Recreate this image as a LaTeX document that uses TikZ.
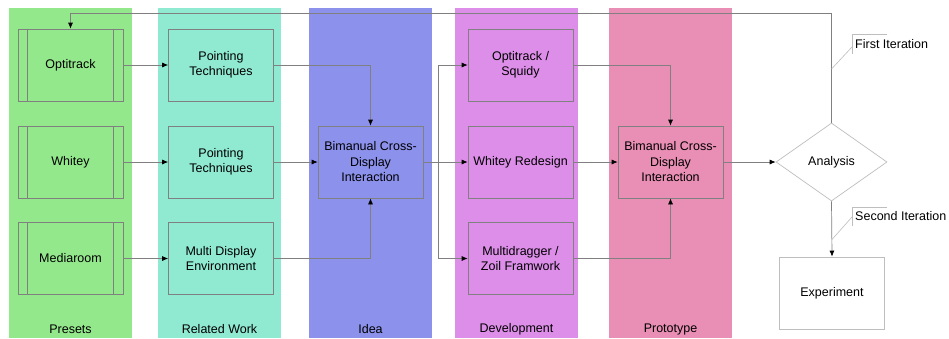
\documentclass[tikz,border=0pt]{standalone}
\usepackage{fontspec}
\setmainfont{Liberation Sans}
\usetikzlibrary{shapes.geometric,arrows.meta}
\definecolor{cgreen}{RGB}{148,232,140}
\definecolor{cteal}{RGB}{144,234,210}
\definecolor{cblue}{RGB}{140,145,236}
\definecolor{cmag}{RGB}{221,142,233}
\definecolor{cpink}{RGB}{233,142,180}
\definecolor{edgegray}{RGB}{128,128,128}
\definecolor{notegray}{RGB}{190,190,190}
\begin{document}
\begin{tikzpicture}[x=1pt,y=-1pt,
  box/.style={draw=edgegray,line width=0.7pt,minimum width=105pt,minimum height=72pt,inner sep=2pt,align=center,font=\fontsize{12.5}{15.5}\selectfont},
  lbl/.style={font=\fontsize{12.5}{15.5}\selectfont},
  conn/.style={draw=edgegray,line width=0.7pt},
  arr/.style={conn,-{Latex[length=6pt,width=5pt,black]}},
  note/.style={draw=notegray,line width=0.6pt}]
\fill[white] (0,0) rectangle (949,338);
\useasboundingbox (0,0) rectangle (949,338);
% lanes
\fill[cgreen] (9,8) rectangle (132,338);
\fill[cteal] (158,8) rectangle (281,338);
\fill[cblue] (309,8) rectangle (432,338);
\fill[cmag] (455,8) rectangle (578,338);
\fill[cpink] (609,8) rectangle (732,338);
\node[lbl] (l1) at (70.5,329) {Presets};
\node[lbl] (l2) at (219.5,329) {Related Work};
\node[lbl] (l3) at (370.5,329) {Idea};
\node[lbl] (l4) at (516.5,329) {Development};
\node[lbl] (l5) at (670.5,329) {Prototype};
% presets
\foreach \n/\t/\y in {p1/Optitrack/65,p2/Whitey/162,p3/Mediaroom/258.5}{
  \node[box] (\n) at (70.5,\y) {\t};
  \draw[edgegray,line width=0.7pt] ([xshift=10pt]\n.north west) -- ([xshift=10pt]\n.south west)
        ([xshift=-10pt]\n.north east) -- ([xshift=-10pt]\n.south east);
}
\node[box] (r1) at (221,65) {Pointing\\Techniques};
\node[box] (r2) at (221,162) {Pointing\\Techniques};
\node[box] (r3) at (221,258.5) {Multi Display\\Environment};
\node[box] (idea) at (370.5,162) {Bimanual Cross-\\Display\\Interaction};
\node[box] (d1) at (520.5,65) {Optitrack /\\Squidy};
\node[box] (d2) at (520.5,162) {Whitey Redesign};
\node[box] (d3) at (520.5,258.5) {Multidragger /\\Zoil Framwork};
\node[box] (proto) at (670.5,162) {Bimanual Cross-\\Display\\Interaction};
\node[draw=notegray,line width=0.7pt,diamond,minimum width=111pt,minimum height=78pt,inner sep=0pt,lbl] (ana) at (831.5,162) {Analysis};
\node[box,draw=notegray] (exp) at (832,293) {Experiment};
% connectors
\draw[arr] (p1.east) -- (r1.west);
\draw[arr] (p2.east) -- (r2.west);
\draw[arr] (p3.east) -- (r3.west);
\draw[arr] (r1.east) -| (idea.north);
\draw[arr] (r2.east) -- (idea.west);
\draw[arr] (r3.east) -| (idea.south);
\coordinate (s1) at (438,162);
\draw[arr] (idea.east) -- (d2.west);
\draw[arr] (s1) |- (d1.west);
\draw[arr] (s1) |- (d3.west);
\draw[arr] (d1.east) -| (proto.north);
\draw[arr] (d2.east) -- (proto.west);
\draw[arr] (d3.east) -| (proto.south);
\draw[arr] (proto.east) -- (ana.west);
\draw[arr] (ana.south) -- (exp.north);
\coordinate (fb) at (831.5,13);
\draw[arr] (ana.north) -- (fb) -| (p1.north);
% notes
\draw[note] (887,34) -- (852,34) -- (852,54);
\node[lbl,anchor=west,inner sep=0pt] (n1) at (855,44) {First Iteration};
\draw[note] (852,47) -- (831.5,69);
\draw[note] (887,207) -- (852,207) -- (852,226);
\node[lbl,anchor=west,inner sep=0pt] (n2) at (855,216) {Second Iteration};
\draw[note] (852,217) -- (831.5,240);
\end{tikzpicture}
\end{document}
